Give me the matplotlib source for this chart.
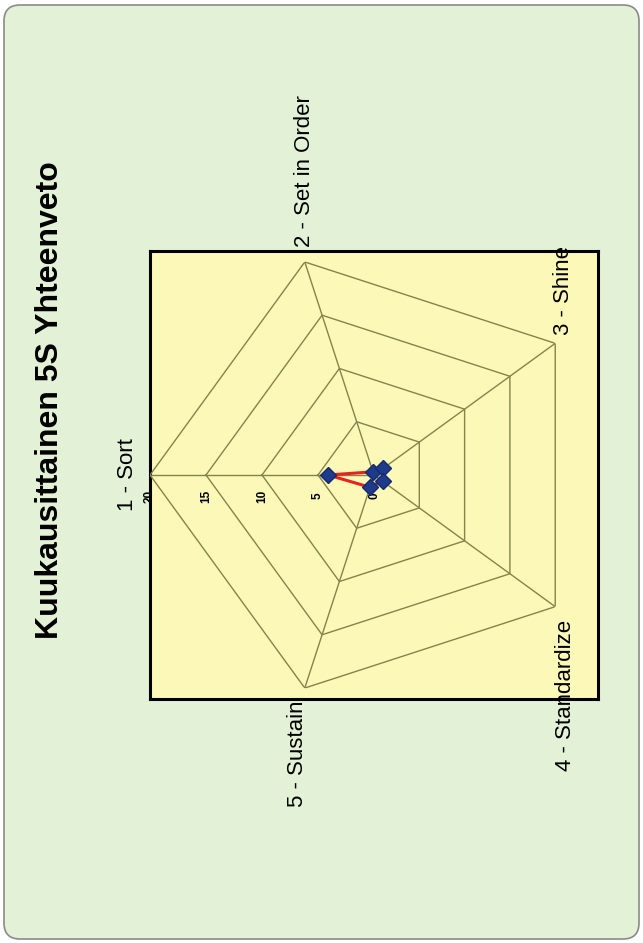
import numpy as np
import matplotlib.pyplot as plt
from matplotlib.patches import FancyBboxPatch

plt.rcParams['font.family'] = ['Liberation Sans', 'DejaVu Sans']

categories = ['1 - Sort', '2 - Set in Order', '3 - Shine', '4 - Standardize', '5 - Sustain']
values = [4.1, 0.3, 1.0, 0.95, 1.15]
rings = [5, 10, 15, 20]
scale_labels = [0, 5, 10, 15, 20]
title = 'Kuukausittainen 5S Yhteenveto'

W, H = 643, 943
fig = plt.figure(figsize=(W / 100, H / 100), dpi=100, facecolor='white')

# rounded green background panel
bg = fig.add_axes([0, 0, 1, 1])
bg.set_xlim(0, W)
bg.set_ylim(H, 0)
bg.axis('off')
bg.add_patch(FancyBboxPatch((4, 5), W - 8, H - 9, boxstyle='round,pad=0,rounding_size=16',
                            facecolor='#E3F2D6', edgecolor='#8A8A8A', lw=1.2))

# yellow plot area with black frame
rect = [150 / W, (H - 699) / H, 448 / W, 448 / H]
box = fig.add_axes(rect)
box.set_facecolor('#FBF8B8')
box.set_xticks([])
box.set_yticks([])
for s in box.spines.values():
    s.set_linewidth(2.2)
    s.set_color('black')

# radar, turned so that "1 - Sort" points left
ax = fig.add_axes(rect, projection='polar')
ax.patch.set_visible(False)
ax.spines['polar'].set_visible(False)
ax.set_theta_zero_location('W')
ax.set_theta_direction(-1)
ax.set_ylim(0, 20)
ax.set_xticks([])
ax.set_yticks([])
ax.grid(False)

theta = np.deg2rad(np.arange(len(categories)) * 360 / len(categories))
closed = np.append(theta, theta[0])
grid_col = '#84844A'
for r in rings:
    ax.plot(closed, [r] * len(closed), color=grid_col, lw=1.0)
for t in theta:
    ax.plot([t, t], [0, 20], color=grid_col, lw=1.0)

for v in scale_labels:
    ax.annotate(str(v), xy=(0, v), xytext=(0, -21), textcoords='offset pixels',
                rotation=90, ha='center', va='center', fontsize=8.5, fontweight='bold')

# category labels: (offset x, offset y, ha, va)
label_pos = [(-22, 0, 'center', 'center'),
             (0, 15, 'center', 'bottom'),
             (8, 8, 'center', 'bottom'),
             (10, -13, 'center', 'top'),
             (-7, -12, 'center', 'top')]
for t, name, (dx, dy, ha, va) in zip(theta, categories, label_pos):
    ax.annotate(name, xy=(t, 20), xytext=(dx, dy), textcoords='offset pixels',
                rotation=90, ha=ha, va=va, fontsize=16, annotation_clip=False)

vals = np.append(values, values[0])
ax.plot(closed, vals, color='#E8231E', lw=2.2, zorder=3)
ax.plot(theta, values, 'D', color='#1E3A8C', markeredgecolor='#142a6a',
        markersize=8, ls='none', zorder=4)

fig.text(50 / W, 1 - 400 / H, title, rotation=90, ha='center', va='center',
         fontsize=23, fontweight='bold')

fig.savefig('out.png', dpi=100)
